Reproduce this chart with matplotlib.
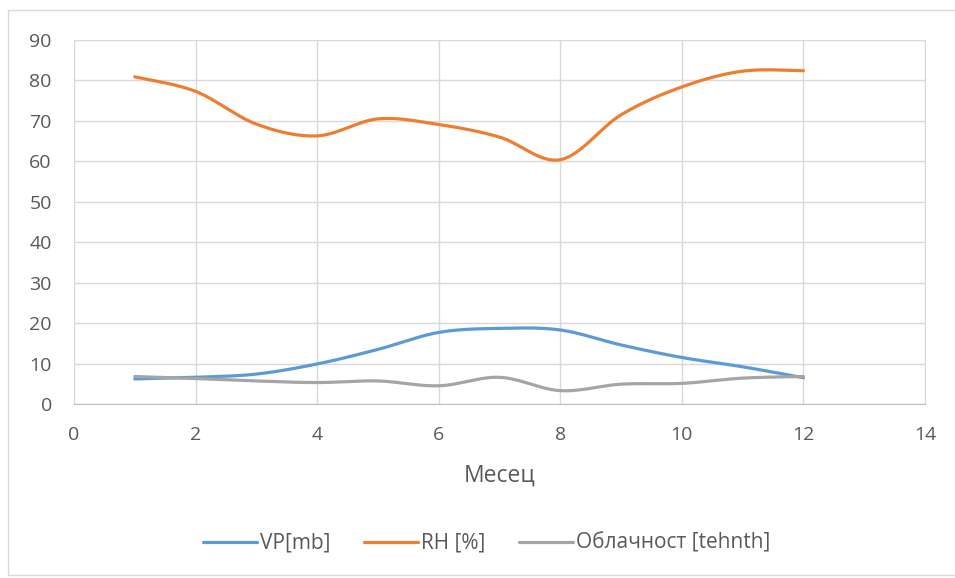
import numpy as np
import matplotlib.pyplot as plt
from matplotlib.patches import Rectangle

plt.rcParams['font.family'] = ['Open Sans', 'DejaVu Sans']

# Месечни вредности
meseci = [1, 2, 3, 4, 5, 6, 7, 8, 9, 10, 11, 12]
vp = [6.2, 6.6, 7.4, 9.9, 13.5, 17.7, 18.7, 18.3, 14.6, 11.5, 9.2, 6.5]
rh = [80.9, 77.3, 69.2, 66.3, 70.5, 69.1, 66.0, 60.4, 71.5, 78.4, 82.3, 82.4]
oblacnost = [6.8, 6.3, 5.7, 5.3, 5.7, 4.5, 6.6, 3.3, 4.9, 5.1, 6.4, 6.8]


def glatka(x, y, n=30):
    # Catmull-Rom / Bezier zaglađivanje kao u Excel-u
    x = np.asarray(x, float)
    y = np.asarray(y, float)
    px = np.concatenate([[x[0]], x, [x[-1]]])
    py = np.concatenate([[y[0]], y, [y[-1]]])
    xs, ys = [], []
    t = np.linspace(0, 1, n)
    for i in range(1, len(px) - 2):
        p0 = np.array([px[i], py[i]])
        p3 = np.array([px[i + 1], py[i + 1]])
        p1 = p0 + (np.array([px[i + 1], py[i + 1]]) - np.array([px[i - 1], py[i - 1]])) / 6
        p2 = p3 - (np.array([px[i + 2], py[i + 2]]) - np.array([px[i], py[i]])) / 6
        b = ((1 - t) ** 3)[:, None] * p0 + (3 * (1 - t) ** 2 * t)[:, None] * p1 \
            + (3 * (1 - t) * t ** 2)[:, None] * p2 + (t ** 3)[:, None] * p3
        xs.extend(b[:, 0])
        ys.extend(b[:, 1])
    return xs, ys


fig = plt.figure(figsize=(9.55, 5.78), dpi=100)
fig.patches.append(Rectangle((8 / 955, 3 / 578), 1, 1 - 13 / 578, transform=fig.transFigure,
                             fill=False, edgecolor='#D9D9D9', linewidth=1))
ax = fig.add_axes([74 / 955, 1 - 404 / 578, 851 / 955, 364 / 578])

boje = ['#5B9BD5', '#ED7D31', '#A5A5A5']
nazivi = ['VP[mb]', 'RH [%]', 'Облачност [tehnth]']
for serija, boja, naziv in zip([vp, rh, oblacnost], boje, nazivi):
    xs, ys = glatka(meseci, serija)
    ax.plot(xs, ys, color=boja, linewidth=2.3, label=naziv, solid_capstyle='round')

ax.set_xlim(0, 14)
ax.set_ylim(0, 90)
ax.set_xticks(range(0, 15, 2))
ax.set_yticks(range(0, 91, 10))
ax.grid(True, color='#D9D9D9', linewidth=1)
ax.set_axisbelow(True)
for s in ax.spines.values():
    s.set_color('#D9D9D9')
ax.spines['bottom'].set_color('#BFBFBF')
ax.tick_params(length=0, labelsize=14, labelcolor='#595959')
ax.tick_params(axis='x', pad=16)
ax.tick_params(axis='y', pad=16)
ax.set_xlabel('Месец', fontsize=16.5, color='#595959', labelpad=14)

ax.legend(loc='center', bbox_to_anchor=(0.485, -0.383), ncol=3, frameon=False,
          fontsize=15, labelcolor='#595959', handlelength=2.6, handletextpad=0.15,
          columnspacing=1.6)

plt.savefig('out.png', dpi=100)
